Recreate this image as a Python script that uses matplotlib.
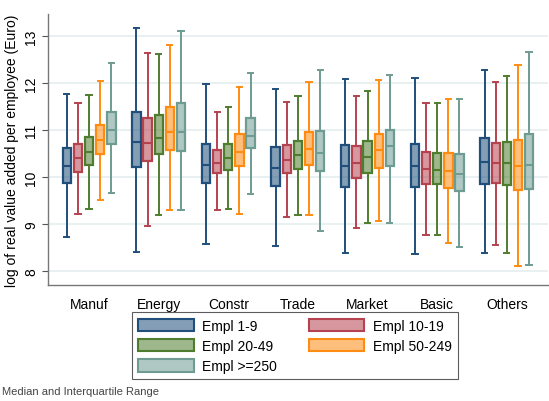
import numpy as np
import matplotlib.pyplot as plt
from matplotlib.colors import to_rgb
from matplotlib.patches import Patch

plt.rcParams['font.family'] = ['Liberation Sans', 'DejaVu Sans']

sectors = ['Manuf', 'Energy', 'Constr', 'Trade', 'Market', 'Basic', 'Others']
sizes = ['Empl 1-9', 'Empl 10-19', 'Empl 20-49', 'Empl 50-249', 'Empl >=250']

# per sector: one row per size class, columns = lower whisker, q1, median, q3, upper whisker
manuf = [[8.72, 9.87, 10.23, 10.61, 11.77],
         [9.21, 10.11, 10.40, 10.70, 11.57],
         [9.32, 10.26, 10.54, 10.86, 11.75],
         [9.52, 10.48, 10.79, 11.10, 12.05],
         [9.66, 10.71, 11.00, 11.39, 12.43]]
energy = [[8.40, 10.21, 10.75, 11.38, 13.17],
          [8.96, 10.34, 10.73, 11.26, 12.65],
          [9.18, 10.48, 10.82, 11.31, 12.61],
          [9.30, 10.58, 10.96, 11.48, 12.80],
          [9.29, 10.55, 10.96, 11.58, 13.11]]
constr = [[8.57, 9.87, 10.26, 10.71, 11.99],
          [9.29, 10.09, 10.30, 10.57, 11.38],
          [9.32, 10.14, 10.40, 10.70, 11.50],
          [9.21, 10.24, 10.54, 10.91, 11.92],
          [9.64, 10.61, 10.88, 11.26, 12.22]]
trade = [[8.54, 9.80, 10.20, 10.63, 11.88],
         [9.15, 10.09, 10.37, 10.69, 11.60],
         [9.20, 10.16, 10.46, 10.77, 11.72],
         [9.18, 10.26, 10.60, 10.96, 12.03],
         [8.86, 10.13, 10.50, 10.97, 12.27]]
market = [[8.39, 9.79, 10.23, 10.69, 12.09],
          [8.91, 9.98, 10.30, 10.66, 11.72],
          [9.03, 10.09, 10.43, 10.77, 11.84],
          [9.06, 10.19, 10.58, 10.92, 12.06],
          [9.01, 10.23, 10.66, 10.99, 12.17]]
basic = [[8.35, 9.79, 10.23, 10.71, 12.11],
         [8.77, 9.85, 10.16, 10.53, 11.58],
         [8.77, 9.84, 10.14, 10.52, 11.57],
         [8.60, 9.76, 10.12, 10.50, 11.65],
         [8.50, 9.70, 10.06, 10.48, 11.67]]
others = [[8.39, 9.85, 10.32, 10.82, 12.27],
          [8.56, 9.87, 10.30, 10.72, 12.03],
          [8.38, 9.82, 10.29, 10.74, 12.15],
          [8.11, 9.72, 10.23, 10.79, 12.38],
          [8.13, 9.74, 10.26, 10.91, 12.67]]

stats = [manuf, energy, constr, trade, market, basic, others]

edge_cols = ['#1f4f7a', '#b5434f', '#4f7d2f', '#ff8c10', '#6e9b92']
fill_alpha = 0.55

fig = plt.figure(figsize=(5.49, 4.02), dpi=100)
ax = fig.add_axes([0.0874, 0.2886, 0.9106, 0.6741])

offsets = (np.arange(5) - 2) * 0.16
width = 0.12

for g, sector in enumerate(stats):
    for k, (lo, q1, med, q3, hi) in enumerate(sector):
        bx = [{'whislo': lo, 'q1': q1, 'med': med, 'q3': q3, 'whishi': hi, 'label': ''}]
        c = edge_cols[k]
        ax.bxp(bx, positions=[g + 1 + offsets[k]], widths=width, patch_artist=True,
               showfliers=False, manage_ticks=False,
               boxprops=dict(facecolor=(*to_rgb(c), fill_alpha), edgecolor=c, linewidth=1.6),
               medianprops=dict(color=c, linewidth=1.5),
               whiskerprops=dict(color=c, linewidth=1.4),
               capprops=dict(color=c, linewidth=1.4),
               capwidths=0.075)

ax.set_xlim(0.41, 7.59)
ax.set_ylim(7.70, 13.47)
ax.set_xticks(np.arange(1, 8))
ax.set_xticklabels(sectors, fontsize=10)
ax.tick_params(axis='x', length=0, pad=9)
ax.set_yticks(np.arange(8, 14))
ax.set_yticklabels([str(v) for v in range(8, 14)], fontsize=10, rotation=90, va='center')
ax.tick_params(axis='y', length=4, width=0.8, color='#555555', pad=3)
ax.grid(axis='y', color='#e6eff1', linewidth=1.3)
ax.set_axisbelow(True)
for side in ['top', 'right']:
    ax.spines[side].set_visible(False)
for side in ['left', 'bottom']:
    ax.spines[side].set_color('#777777')
    ax.spines[side].set_linewidth(1.0)
ax.set_ylabel('log of real value added per employee (Euro)', fontsize=10, labelpad=4)

handles = [Patch(facecolor=(*to_rgb(c), fill_alpha), edgecolor=c,
                 linewidth=1.5, label=s) for c, s in zip(edge_cols, sizes)]
order = [0, 2, 4, 1, 3]
leg = fig.legend([handles[i] for i in order], [sizes[i] for i in order],
                 loc='center', bbox_to_anchor=(0.537, 0.137), ncol=2, fontsize=10,
                 handlelength=4.0, handleheight=1.0, fancybox=False, frameon=True,
                 borderpad=0.45, labelspacing=0.45, columnspacing=2.3, handletextpad=0.6)
leg.get_frame().set_edgecolor('#333333')
leg.get_frame().set_linewidth(0.8)

fig.text(0.004, 0.024, 'Median and Interquartile Range', fontsize=8, color='#444444',
         va='center', ha='left')

fig.savefig('out.png', dpi=100)
